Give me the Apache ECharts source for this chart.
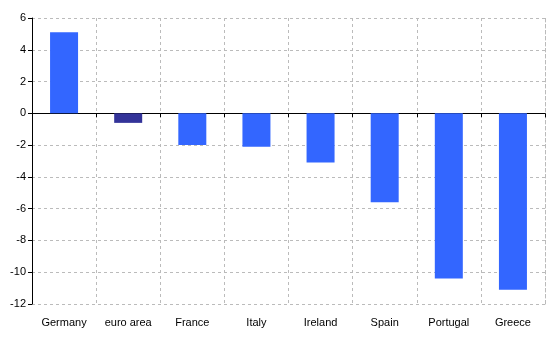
<!DOCTYPE html>
<html><head><meta charset="utf-8">
<script src="https://cdn.jsdelivr.net/npm/echarts@6/dist/echarts.min.js"></script>
<style>html,body{margin:0;padding:0;background:#fff}#c{width:550px;height:340px}</style>
</head><body><div id="c"></div>
<script>
var categories = ["Germany","euro area","France","Italy","Ireland","Spain","Portugal","Greece"];
var values = [5.1,-0.6,-2.0,-2.1,-3.1,-5.6,-10.4,-11.1];
var barColors = ["#3366FF","#333399","#3366FF","#3366FF","#3366FF","#3366FF","#3366FF","#3366FF"];
var yTicks = [-12,-10,-8,-6,-4,-2,0,2,4,6];

var chart = echarts.init(document.getElementById('c'));
chart.setOption({
  animation:false,
  grid:{left:32,right:5,top:18,bottom:36},
  xAxis:[{
    type:'category', data:categories, position:'bottom',
    axisLine:{onZero:true,onZeroAxisIndex:0,lineStyle:{color:'#000',width:1}},
    axisTick:{show:true,length:4,interval:0,lineStyle:{color:'#000'}},
    axisLabel:{show:false,interval:0},
    splitLine:{show:true,interval:0,lineStyle:{color:'#bbbbbb',type:[3,3]}}
  },{
    type:'category', data:categories, position:'bottom',
    axisLine:{show:false,onZero:false}, axisTick:{show:false},
    axisLabel:{show:true,interval:0,color:'#000',fontFamily:'Liberation Sans, Arial',fontSize:11,margin:13},
    splitLine:{show:false}
  }],
  yAxis:[{
    type:'value', min:yTicks[0], max:yTicks[yTicks.length-1], interval:2,
    axisLine:{show:true,lineStyle:{color:'#000'}},
    axisTick:{show:true,length:4,lineStyle:{color:'#000'}},
    axisLabel:{color:'#000',fontFamily:'Liberation Sans, Arial',fontSize:11,margin:6},
    splitLine:{show:true,lineStyle:{color:'#bbbbbb',type:[3,3]}}
  },{
    type:'value', position:'right', min:yTicks[0], max:yTicks[yTicks.length-1], interval:2,
    axisLine:{show:true,onZero:false,lineStyle:{color:'#bbbbbb',type:[3,3]}},
    axisTick:{show:false}, axisLabel:{show:false}, splitLine:{show:false}
  }],
  series:[{
    type:'bar', xAxisIndex:0, yAxisIndex:0, barWidth:28,
    data:values.map(function(v,i){return {value:v,itemStyle:{color:barColors[i]}};})
  }]
});
</script></body></html>
